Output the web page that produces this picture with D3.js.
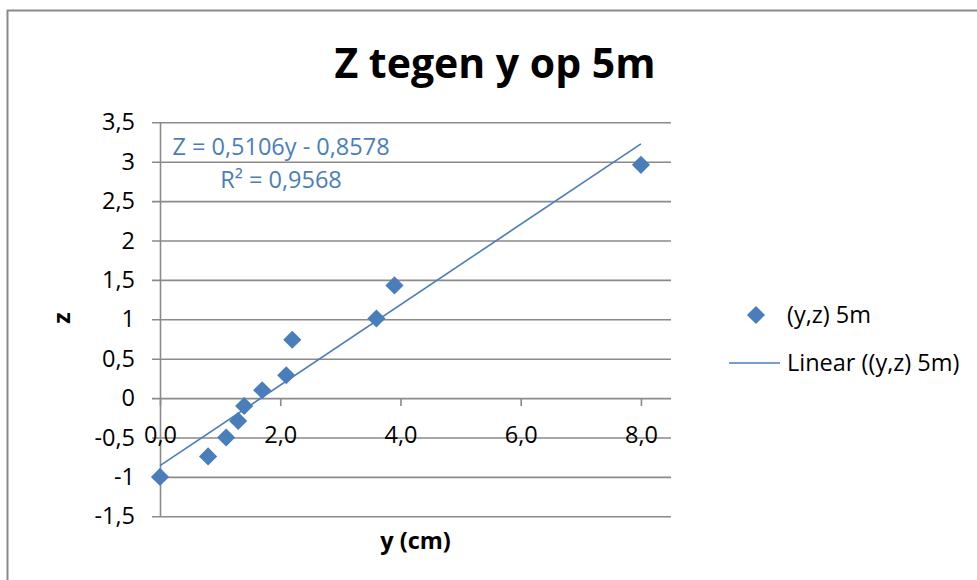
<!DOCTYPE html>
<html>
<head>
<meta charset="utf-8">
<script src="https://cdn.jsdelivr.net/npm/d3@7"></script>
<style>
  html, body { margin: 0; padding: 0; background: #fff; }
  svg { display: block; }
  text { font-family: "Open Sans", "Liberation Sans", sans-serif; }
</style>
</head>
<body>
<svg id="chart" width="977" height="580"></svg>
<script>
// ---- data ----
const yValues = [0.0, 0.8, 1.1, 1.3, 1.4, 1.7, 2.1, 2.2, 3.6, 3.9, 8.0];
const zValues = [-1.0, -0.74, -0.5, -0.29, -0.1, 0.1, 0.29, 0.74, 1.01, 1.43, 2.96];
const trendSlope = [0.5106];
const trendIntercept = [-0.8578];
const trendRange = [0, 8];
const xTickValues = [0, 2, 4, 6, 8];
const xTickLabels = ["0,0", "2,0", "4,0", "6,0", "8,0"];
const yTickValues = [-1.5, -1, -0.5, 0, 0.5, 1, 1.5, 2, 2.5, 3, 3.5];
const yTickLabels = ["-1,5", "-1", "-0,5", "0", "0,5", "1", "1,5", "2", "2,5", "3", "3,5"];
const titleText = "Z tegen y op 5m";
const xTitle = "y (cm)";
const yTitle = "z";
const equationText = "Z = 0,5106y - 0,8578";
const r2Text = "R² = 0,9568";
const seriesName = "(y,z) 5m";
const trendName = "Linear ((y,z) 5m)";

// ---- layout ----
const svg = d3.select("#chart");
const blue = "#4A7EBB";
const grid = "#8A8A8A";
const fs = 23.5;
const plot = { left: 160, right: 671, top: 122.3, bottom: 516.3 };

const x = d3.scaleLinear().domain([0, 8.5]).range([plot.left, plot.right]);
const y = d3.scaleLinear().domain([-1.5, 3.5]).range([plot.bottom, plot.top]);

// outer frame
svg.append("rect")
  .attr("x", 7.5).attr("y", 10.5)
  .attr("width", 1000).attr("height", 600)
  .attr("fill", "none").attr("stroke", "#898989").attr("stroke-width", 2);

// title
svg.append("text")
  .attr("x", 495).attr("y", 78)
  .attr("text-anchor", "middle")
  .attr("font-size", 41).attr("font-weight", 700)
  .text(titleText);

// y axis: gridlines with small outward tick, labels
const yAxis = d3.axisLeft(y)
  .tickValues(yTickValues)
  .tickSize(8)
  .tickSizeOuter(0)
  .tickPadding(17)
  .tickFormat((d, i) => yTickLabels[i]);
const gy = svg.append("g")
  .attr("transform", `translate(${plot.left},0)`)
  .call(yAxis);
gy.select(".domain").attr("stroke", grid).attr("stroke-width", 1.6);
gy.selectAll(".tick line")
  .attr("x1", plot.right - plot.left)
  .attr("stroke", grid).attr("stroke-width", 1.6);
gy.selectAll(".tick text")
  .attr("font-size", fs).attr("fill", "#000");

// x axis along z = 0
const xAxis = d3.axisBottom(x)
  .tickValues(xTickValues)
  .tickSize(8)
  .tickSizeOuter(0)
  .tickPadding(20)
  .tickFormat((d, i) => xTickLabels[i]);
const gx = svg.append("g")
  .attr("transform", `translate(0,${y(0)})`)
  .call(xAxis);
gx.select(".domain").remove();
gx.selectAll(".tick line").attr("stroke", grid).attr("stroke-width", 1.6);
gx.selectAll(".tick text").attr("font-size", fs).attr("fill", "#000");

// trendline
svg.append("line")
  .attr("x1", x(trendRange[0])).attr("y1", y(trendSlope[0] * trendRange[0] + trendIntercept[0]))
  .attr("x2", x(trendRange[1])).attr("y2", y(trendSlope[0] * trendRange[1] + trendIntercept[0]))
  .attr("stroke", blue).attr("stroke-width", 1.6);

// markers
const diamond = d3.symbol().type(d3.symbolSquare).size(165);
svg.append("g").selectAll("path")
  .data(yValues.map((v, i) => [v, zValues[i]]))
  .join("path")
  .attr("d", diamond)
  .attr("transform", d => `translate(${x(d[0])},${y(d[1])}) rotate(45)`)
  .attr("fill", blue);

// equation
svg.append("text")
  .attr("x", 281).attr("y", 155)
  .attr("text-anchor", "middle")
  .attr("font-size", fs).attr("fill", blue)
  .text(equationText);
svg.append("text")
  .attr("x", 281).attr("y", 188)
  .attr("text-anchor", "middle")
  .attr("font-size", fs).attr("fill", blue)
  .text(r2Text);

// axis titles
svg.append("text")
  .attr("x", (plot.left + plot.right) / 2).attr("y", 549)
  .attr("text-anchor", "middle")
  .attr("font-size", fs).attr("font-weight", 700)
  .text(xTitle);
svg.append("text")
  .attr("transform", "translate(70,318) rotate(-90)")
  .attr("text-anchor", "middle")
  .attr("font-size", fs).attr("font-weight", 700)
  .text(yTitle);

// legend
const lg = svg.append("g");
lg.append("path")
  .attr("d", diamond)
  .attr("transform", "translate(756,315) rotate(45)")
  .attr("fill", blue);
lg.append("text")
  .attr("x", 787).attr("y", 323)
  .attr("font-size", fs)
  .text(seriesName);
lg.append("line")
  .attr("x1", 729).attr("x2", 780).attr("y1", 363).attr("y2", 363)
  .attr("stroke", blue).attr("stroke-width", 1.6);
lg.append("text")
  .attr("x", 787).attr("y", 371)
  .attr("font-size", fs)
  .text(trendName);
</script>
</body>
</html>
